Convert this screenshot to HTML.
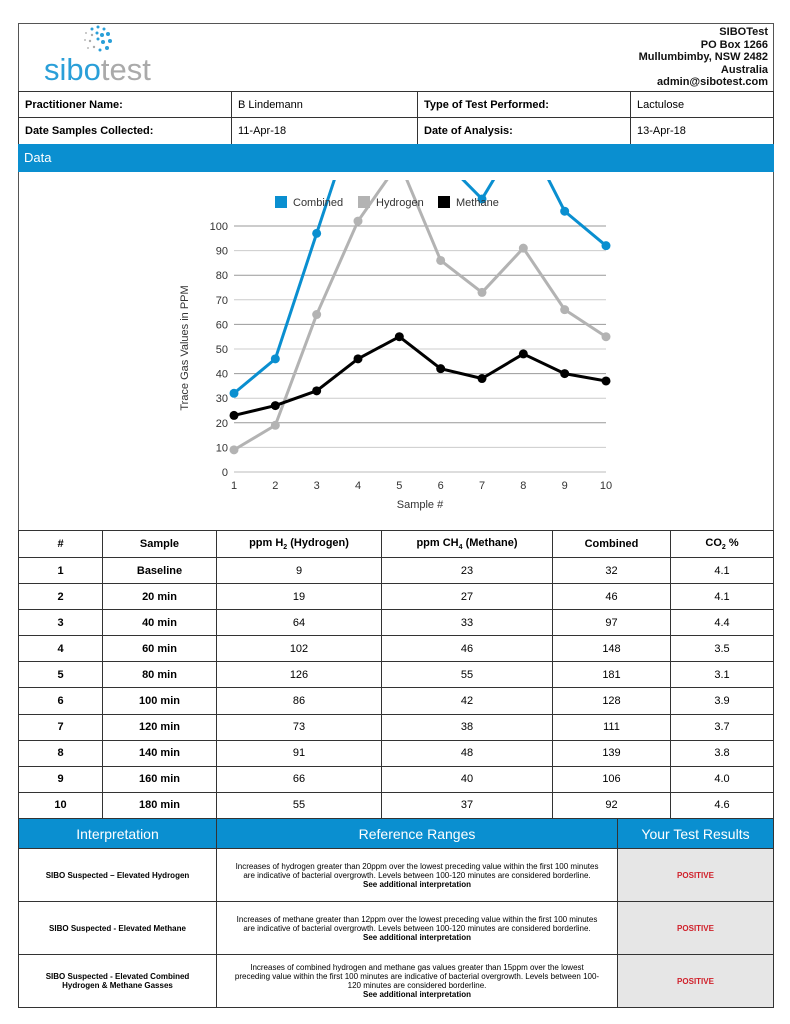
<!DOCTYPE html>
<html><head><meta charset="utf-8"><style>
body{margin:0;width:790px;height:1024px;background:#fff;font-family:"Liberation Sans",sans-serif;position:relative;overflow:hidden}
.a{position:absolute;box-sizing:border-box}
.t{position:absolute;font-size:11px;color:#111}
table{border-collapse:collapse;position:absolute;font-size:11px}
td{border:1px solid #333;box-sizing:border-box}
</style></head><body>
<div class="a" style="left:18px;top:23px;width:756px;height:985px;border:1.5px solid #555"></div>
<div class="a" style="left:44px;top:22px;width:140px;height:66px">
<svg width="140" height="40">
<g fill="#2a9fd8">
<circle cx="48" cy="7" r="1.5"/><circle cx="54" cy="5" r="1.5"/><circle cx="60" cy="7" r="1.5"/><circle cx="64" cy="12" r="2"/><circle cx="66" cy="19" r="2"/><circle cx="63" cy="26" r="2"/><circle cx="58" cy="13" r="2"/><circle cx="59" cy="20" r="2"/><circle cx="53" cy="11" r="1.5"/><circle cx="54" cy="17" r="1.5"/><circle cx="48" cy="13" r="1.2" fill="#aaa"/><circle cx="46" cy="19" r="1.2" fill="#aaa"/><circle cx="50" cy="25" r="1.2" fill="#aaa"/><circle cx="56" cy="28" r="1.5"/><circle cx="42" cy="11" r="1" fill="#bbb"/><circle cx="41" cy="18" r="1" fill="#bbb"/><circle cx="44" cy="26" r="1" fill="#bbb"/>
</g></svg>
<div class="t" style="left:0;top:30px;font-size:31px;letter-spacing:0px"><span style="color:#2a9fd8">sibo</span><span style="color:#aaa;font-weight:300">test</span></div>
</div>
<div class="t" style="right:22px;top:26px;text-align:right;font-weight:bold;line-height:12.5px;font-size:11px">SIBOTest<br>PO Box 1266<br>Mullumbimby, NSW 2482<br>Australia<br>admin@sibotest.com</div>
<table style="left:18px;top:91px;width:756px;font-weight:bold">
<tr style="height:26px"><td style="width:213px;padding-left:6px">Practitioner Name:</td><td style="width:186px;padding-left:6px;font-weight:normal">B Lindemann</td><td style="width:213px;padding-left:6px">Type of Test Performed:</td><td style="padding-left:6px;font-weight:normal">Lactulose</td></tr>
<tr style="height:27px"><td style="padding-left:6px">Date Samples Collected:</td><td style="padding-left:6px;font-weight:normal">11-Apr-18</td><td style="padding-left:6px">Date of Analysis:</td><td style="padding-left:6px;font-weight:normal">13-Apr-18</td></tr>
</table>
<div class="a" style="left:18px;top:144px;width:756px;height:28px;background:#0a8fd0;color:#fff;font-size:13px;padding:6px 6px">Data</div>
<svg class="a" id="chart" style="left:18px;top:172px" width="756" height="358"></svg>
<table id="st" style="left:18px;top:530px;width:756px;text-align:center"></table>
<table style="left:18px;top:818px;width:756px;text-align:center">
<tr style="height:30px;background:#0a8fd0;color:#fff;font-size:14px"><td style="width:198px">Interpretation</td><td style="width:401px">Reference Ranges</td><td>Your Test Results</td></tr>
<tr style="height:53px;font-size:8px"><td style="font-weight:bold;padding:0 14px">SIBO Suspected – Elevated Hydrogen</td><td style="padding:0 16px">Increases of hydrogen greater than 20ppm over the lowest preceding value within the first 100 minutes are indicative of bacterial overgrowth. Levels between 100-120 minutes are considered borderline.<br><b>See additional interpretation</b></td><td style="background:#e6e6e6;color:#d0202a;font-weight:bold">POSITIVE</td></tr>
<tr style="height:53px;font-size:8px"><td style="font-weight:bold;padding:0 14px">SIBO Suspected - Elevated Methane</td><td style="padding:0 16px">Increases of methane greater than 12ppm over the lowest preceding value within the first 100 minutes are indicative of bacterial overgrowth. Levels between 100-120 minutes are considered borderline.<br><b>See additional interpretation</b></td><td style="background:#e6e6e6;color:#d0202a;font-weight:bold">POSITIVE</td></tr>
<tr style="height:53px;font-size:8px"><td style="font-weight:bold;padding:0 14px">SIBO Suspected - Elevated Combined Hydrogen &amp; Methane Gasses</td><td style="padding:0 16px">Increases of combined hydrogen and methane gas values greater than 15ppm over the lowest preceding value within the first 100 minutes are indicative of bacterial overgrowth. Levels between 100-120 minutes are considered borderline.<br><b>See additional interpretation</b></td><td style="background:#e6e6e6;color:#d0202a;font-weight:bold">POSITIVE</td></tr>
</table>
<script>
const samples=[1,2,3,4,5,6,7,8,9,10];
const sampleNames=["Baseline","20 min","40 min","60 min","80 min","100 min","120 min","140 min","160 min","180 min"];
const hydrogen=[9,19,64,102,126,86,73,91,66,55];
const methane=[23,27,33,46,55,42,38,48,40,37];
const combined=[32,46,97,148,181,128,111,139,106,92];
const co2=["4.1","4.1","4.4","3.5","3.1","3.9","3.7","3.8","4.0","4.6"];
const yTicks=[0,10,20,30,40,50,60,70,80,90,100];
const NS="http://www.w3.org/2000/svg";
const svg=document.getElementById('chart');
const ox=18,oy=172;
const xs=i=>234-ox+(i-1)*(606-234)/9;
const ys=v=>472-oy-v*2.46;
function el(t,a,p){const e=document.createElementNS(NS,t);for(const k in a)e.setAttribute(k,a[k]);(p||svg).appendChild(e);return e;}
yTicks.forEach(v=>{const l=el('line',{x1:xs(1),x2:xs(10),y1:ys(v),y2:ys(v),stroke:v==0?'#bbb':(v%20?'#ccc':'#999'),'stroke-width':1});


const t=el('text',{x:xs(1)-6,y:ys(v)+4,'text-anchor':'end','font-size':11,fill:'#333'});t.textContent=v;

});
samples.forEach(s=>{const t=el('text',{x:xs(s),y:ys(0)+17,'text-anchor':'middle','font-size':11,fill:'#333'});t.textContent=s;

});
let t=el('text',{x:xs(5.5),y:ys(0)+36,'text-anchor':'middle','font-size':11,fill:'#333'});t.textContent='Sample #';


t=el('text',{transform:`translate(${188-ox},${348-oy}) rotate(-90)`,'text-anchor':'middle','font-size':11,fill:'#333'});t.textContent='Trace Gas Values in PPM';


const clip=el('clipPath',{id:'c'},el('defs',{}));el('rect',{x:0,y:8,width:756,height:350},clip);
const g=el('g',{'clip-path':'url(#c)'});
[[combined,'#0a8fd0','combined'],[hydrogen,'#b3b3b3','hydrogen'],[methane,'#000','methane']].forEach(([d,c,n])=>{
const p=el('polyline',{points:d.map((v,i)=>xs(samples[i])+','+ys(v)).join(' '),fill:'none',stroke:c,'stroke-width':3,'stroke-linejoin':'round'},g);


d.forEach((v,i)=>{const m=el('circle',{cx:xs(samples[i]),cy:ys(v),r:4.5,fill:c},g);

});});
[['Combined','#0a8fd0',275],['Hydrogen','#b3b3b3',358],['Methane','#000',438]].forEach(([n,c,x])=>{
const r=el('rect',{x:x-ox,y:196-oy,width:12,height:12,fill:c});


const tt=el('text',{x:x-ox+18,y:206-oy,'font-size':11,fill:'#333'});tt.textContent=n;

});
const st=document.getElementById('st');
const w=[84,114,165,171,118,0];
let h='<tr style="height:27px;font-weight:bold">'+['#','Sample','ppm H<sub style="font-size:7px">2</sub> (Hydrogen)','ppm CH<sub style="font-size:7px">4</sub> (Methane)','Combined','CO<sub style="font-size:7px">2</sub> %'].map((x,i)=>`<td style="${w[i]?'width:'+w[i]+'px':''}">${x}</td>`).join('')+'</tr>';
samples.forEach((s,i)=>{h+=`<tr style="height:26.1px"><td style="font-weight:bold">${s}</td><td style="font-weight:bold">${sampleNames[i]}</td><td>${hydrogen[i]}</td><td>${methane[i]}</td><td>${combined[i]}</td><td>${co2[i]}</td></tr>`;});
st.innerHTML=h;
</script>
</body></html>
